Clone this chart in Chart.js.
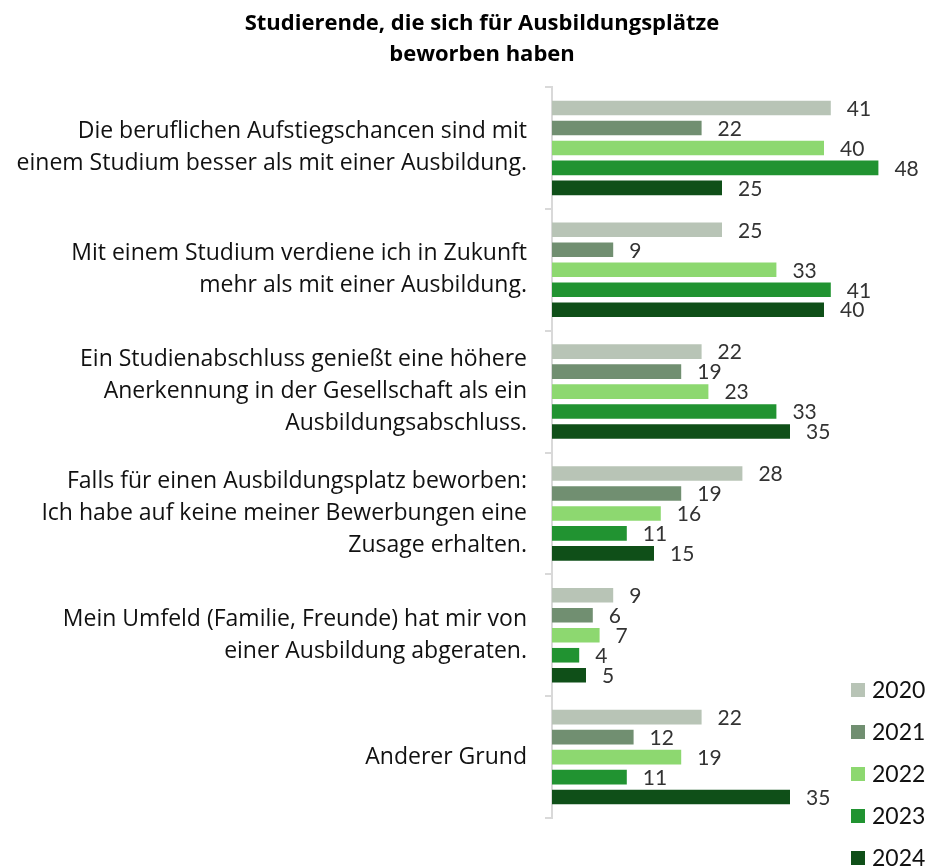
<!DOCTYPE html>
<html>
<head>
<meta charset="utf-8">
<script src="https://cdn.jsdelivr.net/npm/chart.js@4/dist/chart.umd.min.js"></script>
<style>
  body { margin: 0; background: #fff; }
  #wrap { position: relative; width: 927px; height: 868px; }
</style>
</head>
<body>
<div id="wrap"><canvas id="myChart"></canvas></div>
<script>
var title = ['Studierende, die sich für Ausbildungsplätze', 'beworben haben'];
var categories = [
    ['Die beruflichen Aufstiegschancen sind mit', 'einem Studium besser als mit einer Ausbildung.'],
    ['Mit einem Studium verdiene ich in Zukunft', 'mehr als mit einer Ausbildung.'],
    ['Ein Studienabschluss genießt eine höhere', 'Anerkennung in der Gesellschaft als ein', 'Ausbildungsabschluss.'],
    ['Falls für einen Ausbildungsplatz beworben:', 'Ich habe auf keine meiner Bewerbungen eine', 'Zusage erhalten.'],
    ['Mein Umfeld (Familie, Freunde) hat mir von', 'einer Ausbildung abgeraten.'],
    'Anderer Grund'
];
var years = ['2020', '2021', '2022', '2023', '2024'];
var colors = ['#b8c4b6', '#718f71', '#8dd870', '#219331', '#0f4f18'];

var v2020 = [41, 25, 22, 28, 9, 22];
var v2021 = [22, 9, 19, 19, 6, 12];
var v2022 = [40, 33, 23, 16, 7, 19];
var v2023 = [48, 41, 33, 11, 4, 11];
var v2024 = [25, 40, 35, 15, 5, 35];
var values = [v2020, v2021, v2022, v2023, v2024];

var FONT = '"Open Sans", Lato, sans-serif';
var NUMFONT = 'Lato, "Open Sans", sans-serif';

// title, centred a bit right of the canvas middle like the original
var topTitle = {
    id: 'topTitle',
    afterDraw: function (chart) {
        var c = chart.ctx;
        c.save();
        c.font = 'bold 22px ' + FONT;
        c.fillStyle = '#000';
        c.textAlign = 'center';
        c.textBaseline = 'middle';
        title.forEach(function (line, i) {
            c.fillText(line, 482, 24 + i * 31);
        });
        c.restore();
    }
};

// value labels at the end of each bar
var barLabels = {
    id: 'barLabels',
    afterDatasetsDraw: function (chart) {
        var c = chart.ctx;
        c.save();
        c.font = '21px ' + NUMFONT;
        c.fillStyle = '#333333';
        c.textBaseline = 'middle';
        c.textAlign = 'left';
        chart.data.datasets.forEach(function (ds, i) {
            chart.getDatasetMeta(i).data.forEach(function (bar, j) {
                c.fillText(ds.data[j], bar.x + 16, bar.y + 1);
            });
        });
        c.restore();
    }
};

// vertical legend, bottom right
var sideLegend = {
    id: 'sideLegend',
    afterDraw: function (chart) {
        var c = chart.ctx;
        c.save();
        c.font = '23px ' + NUMFONT;
        c.textBaseline = 'middle';
        chart.data.datasets.forEach(function (ds, i) {
            var y = 690 + i * 42;
            c.fillStyle = ds.backgroundColor;
            c.fillRect(851, y - 7, 14, 14);
            c.fillStyle = '#111';
            c.fillText(ds.label, 872, y + 1);
        });
        c.restore();
    }
};

var ctx = document.getElementById('myChart');
var myChart = new Chart(ctx, {
    type: 'bar',
    data: {
        labels: categories,
        datasets: years.map(function (y, i) {
            return {
                label: y,
                data: values[i],
                backgroundColor: colors[i],
                barPercentage: 0.73,
                categoryPercentage: 0.82
            };
        })
    },
    options: {
        indexAxis: 'y',
        responsive: true,
        maintainAspectRatio: false,
        animation: false,
        layout: { padding: { left: 0, right: 1, top: 87, bottom: 49 } },
        plugins: {
            legend: { display: false },
            tooltip: { enabled: false },
            title: { display: false }
        },
        scales: {
            x: {
                display: false,
                min: 0,
                max: 55
            },
            y: {
                afterFit: function (scale) { scale.width = 552; },
                border: { display: true, color: '#d9d9d9', width: 2 },
                grid: {
                    display: true,
                    drawOnChartArea: false,
                    drawTicks: true,
                    tickLength: 7,
                    color: '#d9d9d9',
                    lineWidth: 2
                },
                ticks: {
                    color: '#111',
                    padding: 18,
                    font: { family: FONT, size: 23, lineHeight: 1.39 }
                }
            }
        }
    },
    plugins: [topTitle, barLabels, sideLegend]
});
</script>
</body>
</html>
